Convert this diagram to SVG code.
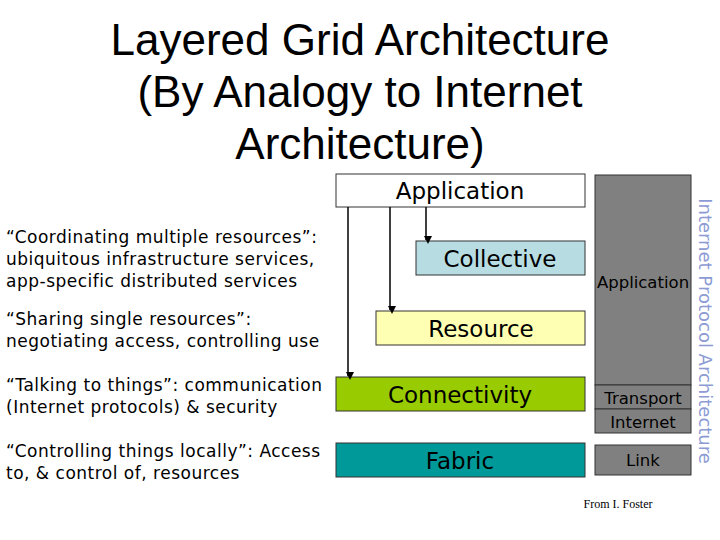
<svg xmlns="http://www.w3.org/2000/svg" width="720" height="540" viewBox="0 0 720 540">
<style>
.t{font-family:"Liberation Sans",Arial,sans-serif;font-size:44px;fill:#000;text-anchor:middle}
.d{font-family:"DejaVu Sans",Verdana,sans-serif;font-size:17px;letter-spacing:0.5px;fill:#000}
.b{font-family:"DejaVu Sans",Verdana,sans-serif;font-size:23px;fill:#000;text-anchor:middle}
.s{font-family:"DejaVu Sans",Verdana,sans-serif;font-size:16.5px;fill:#000;text-anchor:middle}
.box{stroke:#333;stroke-width:1}
.ar{stroke:#000;stroke-width:1.5;fill:none;marker-end:url(#ah)}
</style>
<defs><marker id="ah" markerWidth="8" markerHeight="8" refX="4" refY="6" orient="auto" markerUnits="userSpaceOnUse" viewBox="0 0 8 8"><path d="M0,0 L8,0 L4,8 z" transform="rotate(-90 4 4)"/></marker></defs>
<rect width="720" height="540" fill="#fff"/>
<text class="t" x="360" y="55">Layered Grid Architecture</text>
<text class="t" x="360" y="107">(By Analogy to Internet</text>
<text class="t" x="360" y="159">Architecture)</text>
<g id="desc">
<text class="d" x="6" y="243">“Coordinating multiple resources”:</text>
<text class="d" x="6" y="265">ubiquitous infrastructure services,</text>
<text class="d" x="6" y="287">app-specific distributed services</text>
<text class="d" x="6" y="325">“Sharing single resources”:</text>
<text class="d" x="6" y="347">negotiating access, controlling use</text>
<text class="d" x="6" y="391">“Talking to things”: communication</text>
<text class="d" x="6" y="413">(Internet protocols) &amp; security</text>
<text class="d" x="6" y="457">“Controlling things locally”: Access</text>
<text class="d" x="6" y="479">to, &amp; control of, resources</text>
</g>
<g id="application"><rect class="box" x="336" y="174" width="249" height="33" fill="#fff"/><text class="b" x="460" y="199">Application</text></g>
<g id="collective"><rect class="box" x="416" y="241" width="169" height="34" fill="#b7dde3"/><text class="b" x="500" y="267">Collective</text></g>
<g id="resource"><rect class="box" x="376" y="311" width="209" height="34" fill="#ffffb3"/><text class="b" x="481" y="337">Resource</text></g>
<g id="connectivity"><rect class="box" x="336" y="377" width="249" height="34" fill="#99cc00"/><text class="b" x="460" y="403">Connectivity</text></g>
<g id="fabric"><rect class="box" x="336" y="443" width="249" height="34" fill="#009999"/><text class="b" x="460" y="469">Fabric</text></g>
<g id="ip-application"><rect class="box" x="595" y="175" width="96" height="210" fill="#808080"/><text class="s" x="643" y="288">Application</text></g>
<g id="ip-transport"><rect class="box" x="595" y="385" width="96" height="24" fill="#808080"/><text class="s" x="643" y="404">Transport</text></g>
<g id="ip-internet"><rect class="box" x="595" y="409" width="96" height="24" fill="#808080"/><text class="s" x="643" y="428">Internet</text></g>
<g id="ip-link"><rect class="box" x="595" y="445" width="96" height="30" fill="#808080"/><text class="s" x="643" y="466">Link</text></g>
<text font-family="DejaVu Sans,Verdana,sans-serif" font-size="18" fill="#8c9bd4" text-anchor="middle" transform="translate(699 331) rotate(90)">Internet Protocol Architecture</text>
<text font-family="Liberation Serif,serif" font-size="12" x="618" y="508" text-anchor="middle">From I. Foster</text>
<g id="connectors">
<path class="ar" d="M348,207 V376"/>
<path class="ar" d="M390,207 V310"/>
<path class="ar" d="M426,207 V240"/>
</g>
</svg>
